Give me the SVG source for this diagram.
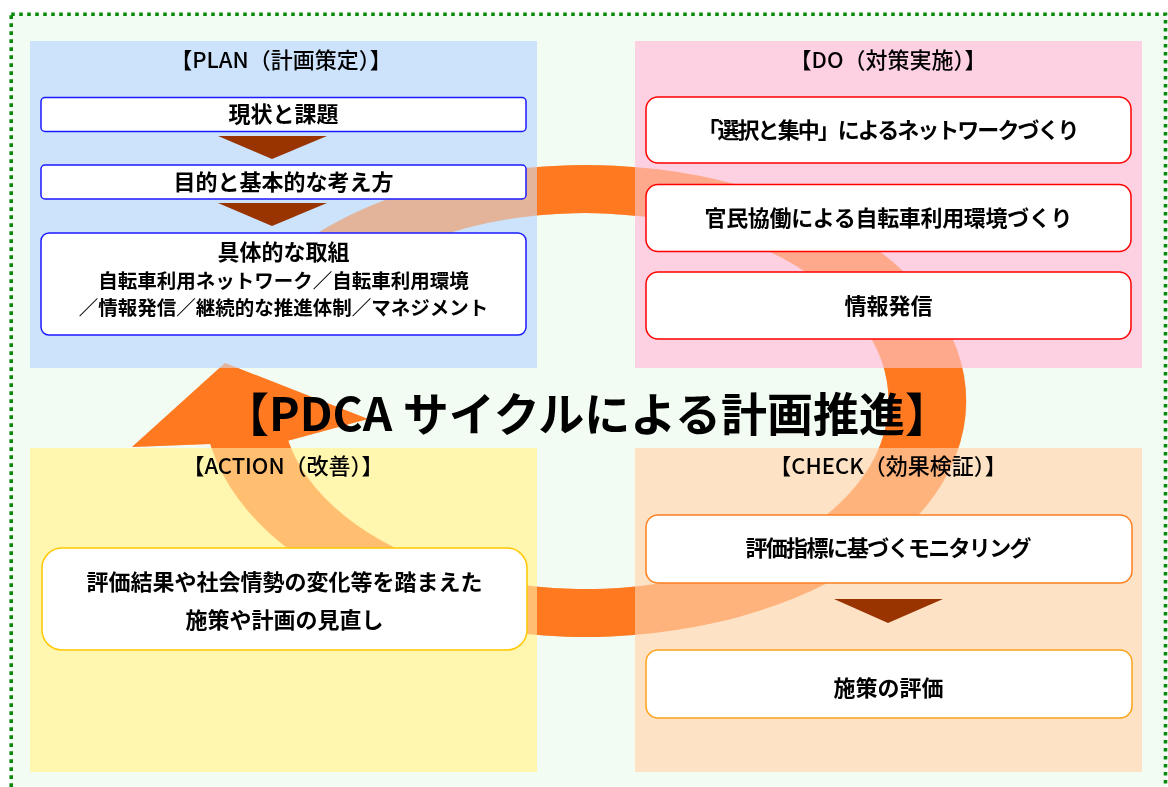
<svg xmlns="http://www.w3.org/2000/svg" xmlns:xlink="http://www.w3.org/1999/xlink" width="1168" height="787" viewBox="0 0 1168 787">
  <style>
    .hdr { font-family: "Noto Sans CJK JP", "Noto Sans", sans-serif; font-size: 22px; font-weight: 500; fill: #000; text-anchor: middle; }
    .txt { font-family: "Noto Sans CJK JP", "Noto Sans", sans-serif; font-size: 22px; font-weight: bold; fill: #000; text-anchor: middle; }
    .sub { font-size: 19.5px; }
    .title { font-family: "Noto Sans CJK JP", "Noto Sans", sans-serif; font-size: 46px; font-weight: bold; fill: #000; text-anchor: middle; }
    .pbox { fill: #fff; stroke: #1a1aff; stroke-width: 1.5; }
    .dbox { fill: #fff; stroke: #ff0000; stroke-width: 1.5; }
    .abox { fill: #fff; stroke: #ffc800; stroke-width: 1.5; }
    .cbox1 { fill: #fff; stroke: #ff7f1f; stroke-width: 1.5; }
    .cbox2 { fill: #fff; stroke: #ffa31a; stroke-width: 1.5; }
    .tri { fill: #993300; }
    .cyc { fill: #ff7a22; }
  </style>
  <defs>
    <g id="cycle">
      <path class="cyc" transform="translate(585 401) scale(1.615 1)" d="M -193.3 -135.4 A 236 236 0 1 1 -233.7 32.8 L -186.2 26.2 A 188 188 0 1 0 -154.0 -107.8 Z"/>
      <polygon class="cyc" points="225,363 132,447 287,441 368,419"/>
    </g>
  </defs>

  <!-- background -->
  <rect x="0" y="0" width="1168" height="787" fill="#ffffff"/>
  <rect x="11" y="14" width="1155" height="780" fill="#f2fcf2"/>
  <rect x="11.2" y="14.3" width="1154.3" height="800" fill="none" stroke="#0a8a0a" stroke-width="3.6" stroke-dasharray="3.6 4.4"/>

  <!-- cycle arrow (behind panels) -->
  <g id="cycle-arrow">
    <use xlink:href="#cycle" href="#cycle"/>
  </g>

  <!-- panels -->
  <g id="panels">
    <rect x="30" y="41" width="507" height="327" fill="#cce3fb"/>
    <rect x="635" y="41" width="507" height="327" fill="#fdd0e2"/>
    <rect x="30" y="448" width="507" height="324" fill="#fff6b0"/>
    <rect x="635" y="448" width="507" height="324" fill="#fee2c6"/>
  </g>

  <!-- cycle arrow seen through the panels -->
  <g id="cycle-arrow-through" opacity="0.45">
    <use xlink:href="#cycle" href="#cycle"/>
  </g>

  <!-- flow connectors -->
  <g id="connectors">
    <polygon class="tri" points="218,136 327,136 272,159"/>
    <polygon class="tri" points="218,203 327,203 272,226"/>
    <polygon class="tri" points="834,599 943,599 888,623"/>
  </g>

  <!-- headers -->
  <g id="headers">
    <text class="hdr" x="281" y="68">【PLAN（計画策定）】</text>
    <text class="hdr" x="888" y="68">【DO（対策実施）】</text>
    <text class="hdr" x="283" y="474">【ACTION（改善）】</text>
    <text class="hdr" x="888" y="474">【CHECK（効果検証）】</text>
  </g>

  <!-- PLAN nodes -->
  <g id="plan-current">
    <rect class="pbox" x="41" y="97.5" width="485" height="34" rx="4"/>
    <text class="txt" x="283.5" y="122.4">現状と課題</text>
  </g>
  <g id="plan-purpose">
    <rect class="pbox" x="41" y="165" width="485" height="34" rx="4"/>
    <text class="txt" x="283.5" y="190.4">目的と基本的な考え方</text>
  </g>
  <g id="plan-actions">
    <rect class="pbox" x="41" y="233" width="485" height="102" rx="8"/>
    <text class="txt" x="283.5" y="260.4">具体的な取組</text>
    <text class="txt sub" x="283.5" y="288.4">自転車利用ネットワーク／自転車利用環境</text>
    <text class="txt sub" x="283.5" y="315.4">／情報発信／継続的な推進体制／マネジメント</text>
  </g>

  <!-- DO nodes -->
  <g id="do-network">
    <rect class="dbox" x="646" y="97" width="485" height="66" rx="12"/>
    <text class="txt" x="888.5" y="138.4" textLength="382" lengthAdjust="spacing">「選択と集中」によるネットワークづくり</text>
  </g>
  <g id="do-environment">
    <rect class="dbox" x="646" y="184.5" width="485" height="67" rx="12"/>
    <text class="txt" x="888.5" y="226.4" textLength="368" lengthAdjust="spacing">官民協働による自転車利用環境づくり</text>
  </g>
  <g id="do-info">
    <rect class="dbox" x="646" y="272" width="485" height="67" rx="12"/>
    <text class="txt" x="888.5" y="314">情報発信</text>
  </g>

  <!-- CHECK nodes -->
  <g id="check-monitoring">
    <rect class="cbox1" x="646" y="515" width="486" height="68" rx="12"/>
    <text class="txt" x="888.5" y="556.4" textLength="286" lengthAdjust="spacing">評価指標に基づくモニタリング</text>
  </g>
  <g id="check-evaluation">
    <rect class="cbox2" x="646" y="650" width="486" height="68" rx="12"/>
    <text class="txt" x="888.5" y="696">施策の評価</text>
  </g>

  <!-- ACTION node -->
  <g id="action-review">
    <rect class="abox" x="42" y="548" width="485" height="102" rx="20"/>
    <text class="txt" x="284.5" y="590.4">評価結果や社会情勢の変化等を踏まえた</text>
    <text class="txt" x="284.5" y="628.4">施策や計画の見直し</text>
  </g>

  <!-- title -->
  <g id="title">
    <text class="title" x="587" y="430.5">【PDCA サイクルによる計画推進】</text>
  </g>
</svg>
